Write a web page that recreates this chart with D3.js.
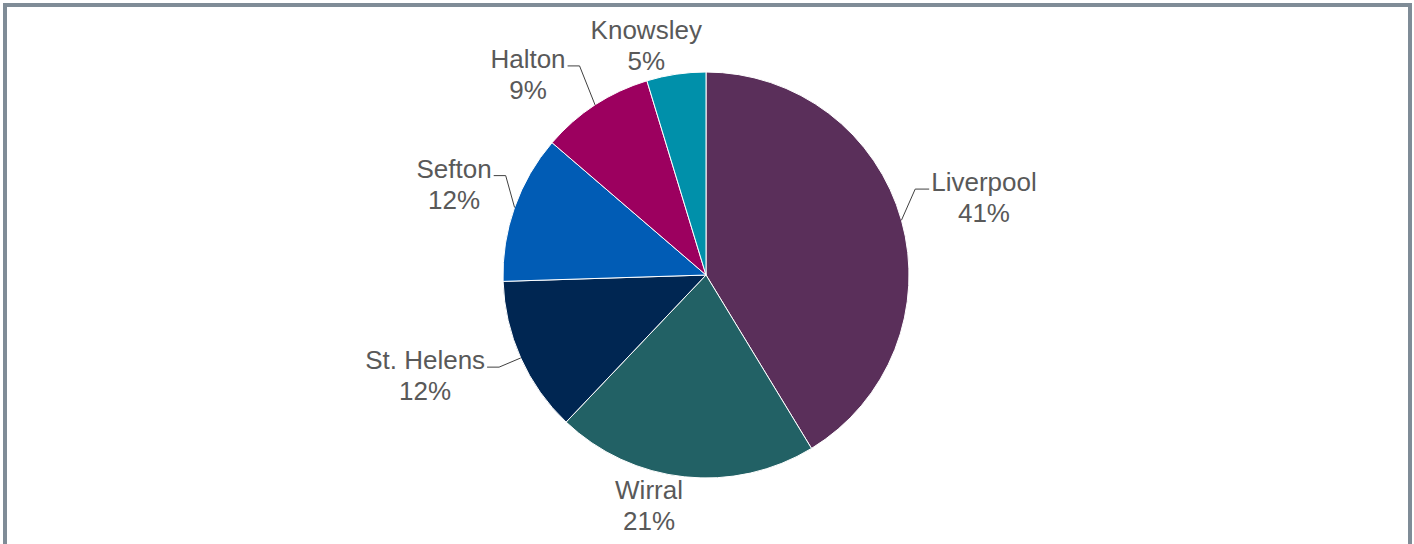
<!DOCTYPE html>
<html>
<head>
<meta charset="utf-8">
<script src="https://cdn.jsdelivr.net/npm/d3@7"></script>
<style>
  html, body { margin: 0; padding: 0; background: #fff; overflow: hidden; }
</style>
</head>
<body>
<div id="vis"></div>
<script>
var width = 1414,
    height = 544;

// data
var areas = ["Liverpool", "Wirral", "St. Helens", "Sefton", "Halton", "Knowsley"];
var shares = [41.3, 20.8, 12.4, 11.8, 9.0, 4.7];
var pctLabels = ["41%", "21%", "12%", "12%", "9%", "5%"];
var colors = ["#5a2f5a", "#226165", "#002652", "#015cb5", "#9c005f", "#0090aa"];

// label layout: radius factor and angle nudge (deg) from slice middle
var labelRadius = [1.422, 1.167, 1.469, 1.32, 1.323, 1.171];
var labelNudge = [0, 7.8, 4.5, 0.5, -8.4, -6.1];
var hasLeader = [true, false, true, true, true, false];

var cx = 706, cy = 275, r = 203;

var svg = d3.select("#vis").append("svg")
    .attr("width", width)
    .attr("height", height);

svg.append("rect")
    .attr("x", 5)
    .attr("y", 5)
    .attr("width", 1405)
    .attr("height", 600)
    .attr("fill", "none")
    .attr("stroke", "#7f8c97")
    .attr("stroke-width", 4);

var data = areas.map(function(a, i) {
    return { name: a, value: shares[i], pct: pctLabels[i], color: colors[i], i: i };
});

var pie = d3.pie()
    .sort(null)
    .value(function(d) { return d.value; });

var arc = d3.arc()
    .innerRadius(0)
    .outerRadius(r);

var g = svg.append("g")
    .attr("transform", "translate(" + cx + "," + cy + ")");

var arcs = pie(data);

g.selectAll("path.slice")
    .data(arcs)
    .enter().append("path")
    .attr("class", "slice")
    .attr("d", arc)
    .attr("fill", function(d) { return d.data.color; })
    .attr("stroke", "#fff")
    .attr("stroke-width", 1);

function polar(angle, rad) {
    return [rad * Math.sin(angle), -rad * Math.cos(angle)];
}

arcs.forEach(function(d) {
    var i = d.data.i,
        mid = (d.startAngle + d.endAngle) / 2,
        la = mid + labelNudge[i] * Math.PI / 180,
        p = polar(la, r * labelRadius[i]);

    var t = g.append("text")
        .attr("text-anchor", "middle")
        .attr("font-family", "Liberation Sans, Arial, sans-serif")
        .attr("font-size", 26)
        .attr("fill", "#595959");

    t.append("tspan")
        .attr("x", p[0])
        .attr("y", p[1] - 6)
        .text(d.data.name);
    t.append("tspan")
        .attr("x", p[0])
        .attr("y", p[1] + 25)
        .text(d.data.pct);

    if (hasLeader[i]) {
        var w = t.select("tspan").node().getComputedTextLength(),
            right = Math.sin(mid) > 0,
            edge = right ? p[0] - w / 2 - 2 : p[0] + w / 2 + 2,
            elbow = right ? edge - 14 : edge + 12,
            ly = p[1] - 8,
            a = polar(mid, r);
        g.append("path")
            .attr("d", "M" + a + "L" + [elbow, ly] + "L" + [edge, ly])
            .attr("fill", "none")
            .attr("stroke", "#404040")
            .attr("stroke-width", 1);
    }
});
</script>
</body>
</html>
